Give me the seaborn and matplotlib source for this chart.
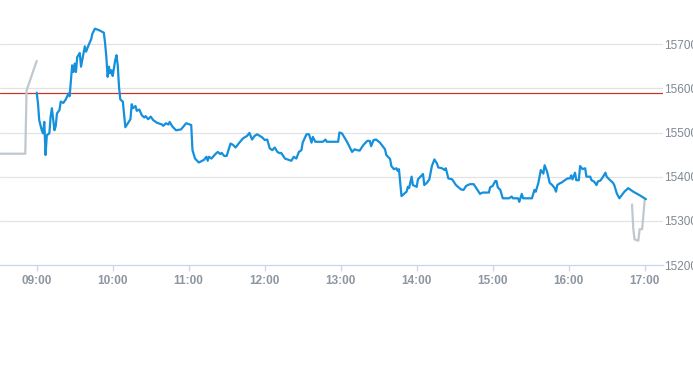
import pandas as pd
import numpy as np
import matplotlib
matplotlib.use("Agg")
import matplotlib.pyplot as plt
import matplotlib.dates as mdates
import seaborn as sns

# intraday quotes (blue)
session_times = [
    "09:00", "09:01", "09:02", "09:04", "09:05", "09:06", "09:07", "09:08", "09:10", "09:11",
    "09:12", "09:14", "09:15", "09:16", "09:18", "09:19", "09:21", "09:23", "09:25", "09:26",
    "09:28", "09:29", "09:30", "09:31", "09:32", "09:34", "09:35", "09:37", "09:38", "09:39",
    "09:41", "09:43", "09:44", "09:46", "09:49", "09:53", "09:54", "09:55", "09:56", "09:57",
    "09:58", "09:59", "10:00", "10:02", "10:03", "10:04", "10:05", "10:06", "10:08", "10:10",
    "10:12", "10:14", "10:15", "10:16", "10:18", "10:19", "10:21", "10:23", "10:25", "10:26",
    "10:28", "10:30", "10:32", "10:35", "10:39", "10:40", "10:42", "10:44", "10:45", "10:47",
    "10:50", "10:54", "10:58", "11:01", "11:02", "11:03", "11:05", "11:08", "11:12", "11:14",
    "11:15", "11:16", "11:18", "11:21", "11:23", "11:25", "11:26", "11:28", "11:30", "11:33",
    "11:35", "11:37", "11:40", "11:43", "11:46", "11:48", "11:50", "11:52", "11:54", "11:58",
    "12:00", "12:02", "12:04", "12:06", "12:08", "12:10", "12:12", "12:13", "12:16", "12:19",
    "12:21", "12:23", "12:25", "12:27", "12:29", "12:30", "12:33", "12:35", "12:37", "12:38",
    "12:40", "12:46", "12:48", "12:49", "12:58", "12:59", "13:01", "13:05", "13:09", "13:11",
    "13:13", "13:15", "13:18", "13:21", "13:23", "13:24", "13:26", "13:28", "13:31", "13:35",
    "13:36", "13:39", "13:40", "13:42", "13:44", "13:45", "13:46", "13:48", "13:50", "13:52",
    "13:53", "13:54", "13:56", "13:57", "14:00", "14:01", "14:03", "14:05", "14:06", "14:08",
    "14:10", "14:12", "14:14", "14:16", "14:17", "14:20", "14:22", "14:23", "14:25", "14:28",
    "14:31", "14:35", "14:37", "14:39", "14:42", "14:45", "14:48", "14:50", "14:52", "14:57",
    "14:58", "15:00", "15:02", "15:03", "15:04", "15:06", "15:08", "15:13", "15:15", "15:16",
    "15:20", "15:21", "15:23", "15:24", "15:31", "15:33", "15:34", "15:36", "15:38", "15:40",
    "15:41", "15:43", "15:45", "15:47", "15:49", "15:50", "15:51", "15:53", "15:54", "15:57",
    "15:59", "16:01", "16:02", "16:03", "16:05", "16:06", "16:08", "16:09", "16:11", "16:13",
    "16:14", "16:17", "16:18", "16:20", "16:22", "16:23", "16:25", "16:27", "16:29", "16:30",
    "16:32", "16:35", "16:36", "16:38", "16:40", "16:43", "16:44", "16:47", "16:51", "16:56",
    "17:01",
]
session_prices = [
    15590, 15567, 15528, 15505, 15498, 15524, 15449, 15494, 15498, 15536,
    15555, 15505, 15514, 15543, 15551, 15570, 15567, 15575, 15588, 15582,
    15652, 15637, 15656, 15637, 15671, 15680, 15649, 15679, 15695, 15683,
    15698, 15711, 15724, 15735, 15732, 15726, 15702, 15671, 15626, 15649,
    15634, 15641, 15628, 15664, 15675, 15652, 15603, 15575, 15570, 15512,
    15521, 15530, 15564, 15555, 15560, 15549, 15552, 15539, 15534, 15537,
    15530, 15536, 15528, 15522, 15518, 15515, 15521, 15518, 15524, 15514,
    15505, 15507, 15521, 15518, 15517, 15460, 15441, 15432, 15438, 15445,
    15436, 15445, 15441, 15451, 15456, 15451, 15454, 15447, 15447, 15475,
    15472, 15466, 15477, 15487, 15492, 15499, 15484, 15492, 15496, 15489,
    15483, 15484, 15464, 15460, 15466, 15456, 15453, 15454, 15441, 15438,
    15436, 15445, 15441, 15456, 15460, 15477, 15496, 15496, 15477, 15490,
    15479, 15479, 15484, 15479, 15479, 15500, 15498, 15479, 15456, 15462,
    15460, 15459, 15472, 15481, 15481, 15469, 15483, 15484, 15477, 15462,
    15449, 15440, 15424, 15417, 15419, 15413, 15417, 15356, 15361, 15366,
    15377, 15374, 15400, 15381, 15377, 15394, 15400, 15406, 15381, 15386,
    15394, 15424, 15439, 15430, 15421, 15419, 15415, 15419, 15396, 15394,
    15381, 15371, 15370, 15379, 15383, 15383, 15370, 15361, 15364, 15364,
    15376, 15379, 15390, 15390, 15376, 15370, 15351, 15351, 15355, 15351,
    15351, 15343, 15361, 15351, 15351, 15370, 15366, 15385, 15415, 15407,
    15426, 15411, 15386, 15381, 15374, 15366, 15381, 15385, 15386, 15392,
    15396, 15396, 15403, 15394, 15409, 15392, 15392, 15424, 15417, 15419,
    15400, 15400, 15392, 15389, 15381, 15389, 15391, 15399, 15409, 15400,
    15394, 15386, 15381, 15362, 15351, 15362, 15366, 15374, 15366, 15358,
    15349,
]

# pre-market and closing auction (grey)
pre_times = ["08:30", "08:51", "08:52", "09:00"]
pre_prices = [15452, 15452, 15595, 15662]
post_times = ["16:50", "16:51", "16:52", "16:55", "16:56", "16:58", "17:00"]
post_prices = [15337, 15283, 15258, 15255, 15281, 15281, 15347]

prev_close = 15590
y_ticks = [15200, 15300, 15400, 15500, 15600, 15700]
x_hours = list(range(9, 18))

day = "2024-01-02 "


def to_frame(times, prices):
    return pd.DataFrame({"time": pd.to_datetime([day + t for t in times]), "price": prices})


session = to_frame(session_times, session_prices)
pre = to_frame(pre_times, pre_prices)
post = to_frame(post_times, post_prices)

sns.set_theme(style="white")
plt.rcParams["font.family"] = ["Liberation Sans", "DejaVu Sans"]

fig = plt.figure(figsize=(6.93, 3.65), dpi=100)
ax = fig.add_axes([0.0, 100 / 365, 663 / 693, 265 / 365])

grey = "#bfc8ce"
blue = "#1490dc"
sns.lineplot(data=pre, x="time", y="price", ax=ax, color=grey, linewidth=1.6)
sns.lineplot(data=post, x="time", y="price", ax=ax, color=grey, linewidth=1.6)
sns.lineplot(data=session, x="time", y="price", ax=ax, color=blue, linewidth=1.6)
ax.axhline(prev_close, color="#c0392b", linewidth=0.9, zorder=1)

for v in y_ticks[1:]:
    ax.axhline(v, color="#e3e3e3", linewidth=0.9, zorder=0)

ax.set_ylim(15200, 15800)
ax.set_xlim(pd.Timestamp(day + "08:31:02"), pd.Timestamp(day + "17:14:28"))
ax.set_yticks(y_ticks)
ax.yaxis.tick_right()
ax.tick_params(axis="y", length=0, pad=1, labelsize=8.5, labelcolor="#7e8894")
ax.xaxis.set_major_locator(mdates.HourLocator(byhour=x_hours))
ax.xaxis.set_major_formatter(mdates.DateFormatter("%H:%M"))
ax.tick_params(axis="x", length=4, width=0.9, color="#ccd6eb", pad=3,
               labelsize=8.5, labelcolor="#8d96a0", bottom=True)
for lab in ax.get_xticklabels():
    lab.set_fontweight("bold")

ax.set_xlabel("")
ax.set_ylabel("")
for side in ["top", "left", "right"]:
    ax.spines[side].set_visible(False)
ax.spines["bottom"].set_color("#ccd6eb")
ax.spines["bottom"].set_linewidth(0.9)

fig.savefig("out.png", dpi=100)
